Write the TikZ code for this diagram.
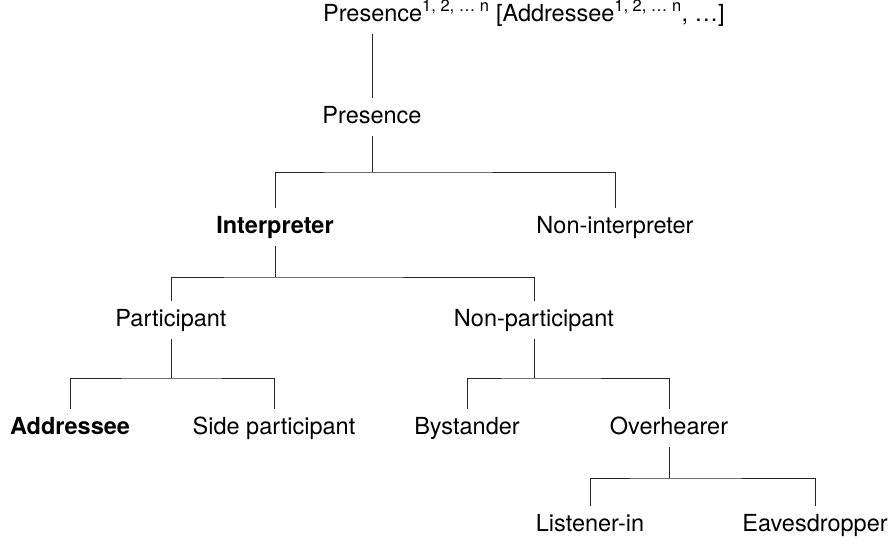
\documentclass[tikz,border=0pt]{standalone}
\usepackage{fontspec}
\setmainfont{TeX Gyre Heros}
\begin{document}
\begin{tikzpicture}[x=1pt,y=-1pt]
\tikzset{
  lbl/.style={anchor=base, inner xsep=0pt, inner ysep=8pt,
              text height=17pt, text depth=5pt,
              font=\fontsize{23.5}{28}\selectfont},
  key/.style={lbl, font=\fontsize{23.5}{28}\selectfont\bfseries},
  conn/.style={draw=black!85, line width=0.9pt},
}
\useasboundingbox (0,0) rectangle (895,544);

% labels
\node[lbl, anchor=base west] (top) at (323,21)
  {Presence\textsuperscript{1, 2, \dots\ n} [Addressee\textsuperscript{1, 2, \dots\ n}, \dots]};
\node[lbl] (pres)   at (372,123) {Presence};
\node[key] (interp) at (275,233) {Interpreter};
\node[lbl] (nonint) at (615,233) {Non-interpreter};
\node[lbl] (part)   at (171,326) {Participant};
\node[lbl] (nonpart) at (534,326) {Non-participant};
\node[key] (addr)   at (70,434)  {Addressee};
\node[lbl] (side)   at (274,434) {Side participant};
\node[lbl] (bystand) at (467,434) {Bystander};
\node[lbl] (over)   at (669,434) {Overhearer};
\node[lbl] (listen) at (590,531) {Listener-in};
\node[lbl] (eaves)  at (815,531) {Eavesdropper};

% branching points
\coordinate (b1) at (372,172);
\coordinate (b2) at (275,277);
\coordinate (b3) at (171,378);
\coordinate (b4) at (534,378);
\coordinate (b5) at (669,478);

% connectors
\draw[conn] (pres.north) -- (pres.north |- top.south);
\draw[conn] (pres.south) -- (b1);
\draw[conn] (interp.north) |- (b1) -| (nonint.north);
\draw[conn] (interp.south) -- (b2);
\draw[conn] (part.north) |- (b2) -| (nonpart.north);
\draw[conn] (part.south) -- (b3);
\draw[conn] (addr.north) |- (b3) -| (side.north);
\draw[conn] (nonpart.south) -- (b4);
\draw[conn] (bystand.north) |- (b4) -| (over.north);
\draw[conn] (over.south) -- (b5);
\draw[conn] (listen.north) |- (b5) -| (eaves.north);
\end{tikzpicture}
\end{document}
